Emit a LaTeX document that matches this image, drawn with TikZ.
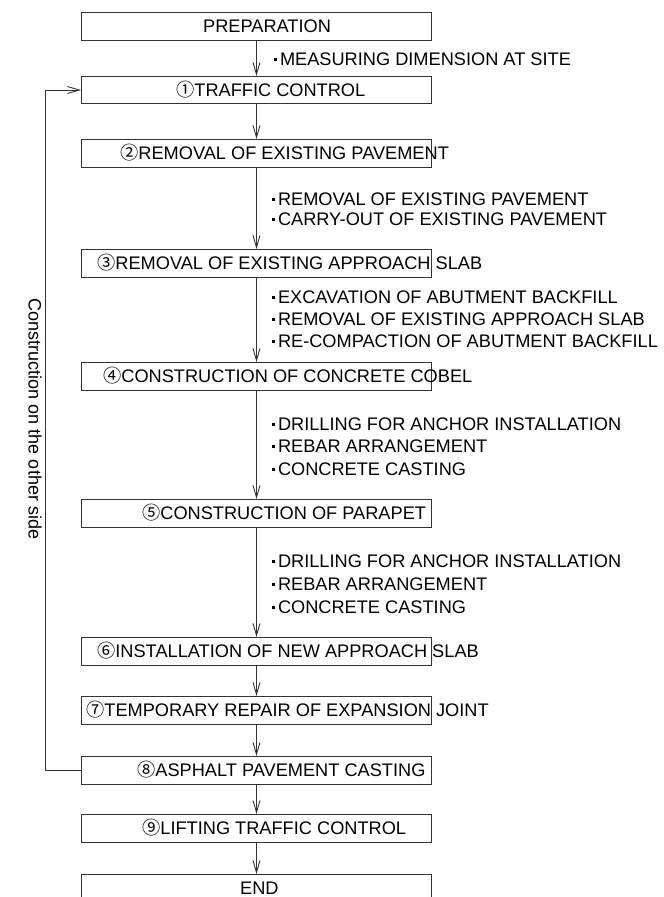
\documentclass[tikz,border=0pt]{standalone}
\usepackage{fontspec}
\setmainfont{Liberation Sans}
\newfontfamily\cjk{Noto Sans CJK JP}
\usetikzlibrary{arrows.meta}
\newcommand{\bdot}{\raisebox{4.6pt}{\rule{2.6pt}{2.6pt}}\hspace{3.2pt}}
\begin{document}
\begin{tikzpicture}[x=1pt,y=-1pt,
  box/.style={draw=black!80, line width=1pt, minimum width=350pt, minimum height=28pt, inner sep=0pt, anchor=north west},
  lbl/.style={anchor=west, inner sep=0pt, text height=13pt, text depth=0pt, font=\fontsize{18.2}{22}\selectfont},
  flow/.style={draw=black!80, line width=0.9pt, -{Straight Barb[length=12pt,width=7pt]}},
  side/.style={rotate=-90, inner sep=0pt, font=\fontsize{18}{22}\selectfont}
]
\useasboundingbox (0,0) rectangle (664,897);
\clip (0,0) rectangle (664,897);
% boxes
\node[box] (p)  at (81,12)  {};
\node[box, minimum height=27pt] (b1) at (81,76) {};
\node[box] (b2) at (81,139) {};
\node[box] (b3) at (81,249) {};
\node[box] (b4) at (81,362) {};
\node[box] (b5) at (81,499) {};
\node[box] (b6) at (81,637) {};
\node[box] (b7) at (81,696) {};
\node[box] (b8) at (81,756) {};
\node[box] (b9) at (81,814) {};
\node[box] (e)  at (81,874) {};
% box texts
\node[lbl] (tp) at (203,26) {PREPARATION};
\node[lbl] (t1) at (176,89.5) {{\cjk ①}TRAFFIC CONTROL};
\node[lbl] (t2) at (120,153) {{\cjk ②}REMOVAL OF EXISTING PAVEMENT};
\node[lbl] (t3) at (97,263) {{\cjk ③}REMOVAL OF EXISTING APPROACH SLAB};
\node[lbl] (t4) at (103,376) {{\cjk ④}CONSTRUCTION OF CONCRETE COBEL};
\node[lbl] (t5) at (142,513) {{\cjk ⑤}CONSTRUCTION OF PARAPET};
\node[lbl] (t6) at (97,650.5) {{\cjk ⑥}INSTALLATION OF NEW APPROACH SLAB};
\node[lbl] (t7) at (86,710) {{\cjk ⑦}TEMPORARY REPAIR OF EXPANSION JOINT};
\node[lbl] (t8) at (137,769.5) {{\cjk ⑧}ASPHALT PAVEMENT CASTING};
\node[lbl] (t9) at (142,828) {{\cjk ⑨}LIFTING TRAFFIC CONTROL};
\node[lbl] (te) at (240,888) {END};
% bullet notes
\node[lbl] (m1) at (274,59) {\bdot MEASURING DIMENSION AT SITE};
\node[lbl] (s21) at (272,199) {\bdot REMOVAL OF EXISTING PAVEMENT};
\node[lbl] (s22) at (272,219) {\bdot CARRY-OUT OF EXISTING PAVEMENT};
\node[lbl] (s31) at (272,297) {\bdot EXCAVATION OF ABUTMENT BACKFILL};
\node[lbl] (s32) at (272,319) {\bdot REMOVAL OF EXISTING APPROACH SLAB};
\node[lbl] (s33) at (272,341) {\bdot RE-COMPACTION OF ABUTMENT BACKFILL};
\node[lbl] (s41) at (272,424) {\bdot DRILLING FOR ANCHOR INSTALLATION};
\node[lbl] (s42) at (272,446) {\bdot REBAR ARRANGEMENT};
\node[lbl] (s43) at (272,469) {\bdot CONCRETE CASTING};
\node[lbl] (s51) at (272,561) {\bdot DRILLING FOR ANCHOR INSTALLATION};
\node[lbl] (s52) at (272,584) {\bdot REBAR ARRANGEMENT};
\node[lbl] (s53) at (272,607) {\bdot CONCRETE CASTING};
% side label
\node[side] (sd) at (35,419) {Construction on the other side};
% connectors
\draw[flow] (p.south) -- (b1.north);
\draw[flow] (b1.south) -- (b2.north);
\draw[flow] (b2.south) -- (b3.north);
\draw[flow] (b3.south) -- (b4.north);
\draw[flow] (b4.south) -- (b5.north);
\draw[flow] (b5.south) -- (b6.north);
\draw[flow] (b6.south) -- (b7.north);
\draw[flow] (b7.south) -- (b8.north);
\draw[flow] (b8.south) -- (b9.north);
\draw[flow] (b9.south) -- (e.north);
\coordinate (lp) at (45,770);
\draw[flow] (b8.west) -- (b8.west -| lp) |- (b1.west);
\end{tikzpicture}
\end{document}
